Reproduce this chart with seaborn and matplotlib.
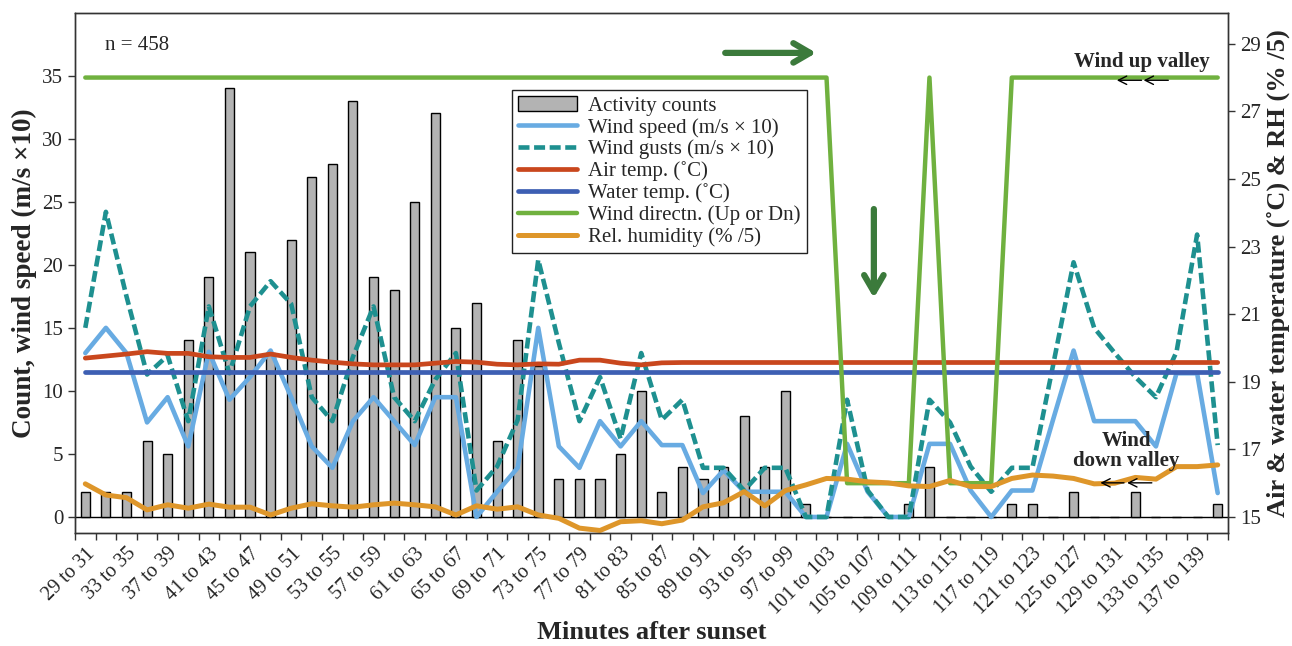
import numpy as np
import pandas as pd
import matplotlib
matplotlib.use("Agg")
import matplotlib.pyplot as plt
import seaborn as sns

# ---------------- data ----------------
starts = list(range(29, 141, 2))
categories = [f"{s} to {s + 2}" for s in starts]

counts = [2, 2, 2, 6, 5, 14, 19, 34, 21, 13, 22, 27, 28, 33, 19,
          18, 25, 32, 15, 17, 6, 14, 12, 3, 3, 3, 5, 10, 2,
          4, 3, 4, 8, 4, 10, 1, 0, 0, 0, 0, 1, 4,
          0, 0, 0, 1, 1, 0, 2, 0, 0, 2, 0, 0, 0, 1]

wind_speed = [13.0, 15.0, 13.0, 7.5, 9.5, 5.6, 13.1, 9.3, 11.1, 13.2, 9.5, 5.6, 3.9, 7.6, 9.5,
              7.6, 5.7, 9.5, 9.5, 0.0, 2.0, 3.9, 15.0, 5.6, 3.9, 7.6, 5.6, 7.6, 5.7,
              5.7, 1.9, 3.7, 2.0, 2.0, 2.0, 0.0, 0.0, 5.8, 2.0, 0.0, 0.0, 5.8,
              5.8, 2.1, 0.0, 2.1, 2.1, 7.7, 13.2, 7.6, 7.6, 7.6, 5.6, 11.4, 11.4, 1.9]

wind_gusts = [15.0, 24.2, 17.5, 11.3, 12.8, 7.6, 16.7, 11.4, 16.7, 18.7, 16.9, 9.5, 7.6, 12.7, 16.7,
              9.5, 7.6, 10.9, 13.0, 2.1, 4.0, 7.7, 20.4, 13.8, 7.6, 11.1, 6.2, 13.0, 7.7,
              9.3, 3.9, 3.9, 2.1, 3.9, 3.9, 0.0, 0.0, 9.3, 2.1, 0.0, 0.0, 9.3,
              7.5, 4.0, 2.0, 3.9, 3.9, 12.0, 20.2, 15.0, 13.0, 11.1, 9.5, 13.1, 22.4, 5.7]

air_temp = [19.70, 19.76, 19.82, 19.89, 19.84, 19.84, 19.74, 19.72, 19.72, 19.82, 19.72, 19.64, 19.58, 19.53, 19.50,
            19.50, 19.50, 19.55, 19.60, 19.58, 19.52, 19.50, 19.53, 19.52, 19.64, 19.64, 19.55, 19.50, 19.56,
            19.57, 19.57, 19.57, 19.57, 19.57, 19.57, 19.57, 19.57, 19.57, 19.57, 19.57, 19.57, 19.57,
            19.57, 19.57, 19.57, 19.57, 19.57, 19.57, 19.57, 19.57, 19.57, 19.57, 19.57, 19.57, 19.57, 19.57]

water_temp = [19.3] * 56

wind_dir = [28] * 37 + [16] * 4 + [28] + [16] * 3 + [28] * 11

rh_div5 = [15.98, 15.65, 15.57, 15.21, 15.36, 15.26, 15.38, 15.29, 15.29, 15.06, 15.26, 15.39, 15.33, 15.29, 15.36,
           15.41, 15.36, 15.30, 15.06, 15.33, 15.23, 15.30, 15.06, 14.96, 14.67, 14.60, 14.86, 14.89, 14.80,
           14.91, 15.30, 15.42, 15.75, 15.33, 15.78, 15.95, 16.14, 16.12, 16.04, 16.01, 15.92, 15.90,
           16.08, 15.90, 15.90, 16.14, 16.24, 16.21, 16.14, 15.98, 16.00, 16.17, 16.12, 16.49, 16.49, 16.54]

df = pd.DataFrame({
    "cat": categories, "idx": np.arange(len(categories)),
    "count": counts, "speed": wind_speed, "gust": wind_gusts,
    "air": air_temp, "water": water_temp, "dir": wind_dir, "rh": rh_div5,
})

# ---------------- style ----------------
sns.set_style("ticks")
plt.rcParams["font.family"] = ["Liberation Serif", "DejaVu Serif"]

C_BAR = "#b3b3b3"
C_SPEED = "#68abe2"
C_GUST = "#1e9090"
C_AIR = "#c9471d"
C_WATER = "#3d5fb3"
C_DIR = "#70b13f"
C_RH = "#de962a"
C_ARROW = "#3b7a3b"

fig = plt.figure(figsize=(12.92, 6.46), dpi=100)
ax = fig.add_axes([75 / 1292, 1 - 533 / 646, (1228 - 75) / 1292, 520 / 646])

sns.barplot(data=df, x="cat", y="count", order=categories, ax=ax, color=C_BAR,
            edgecolor="black", linewidth=1.0, width=0.44, saturation=1,
            label="Activity counts", zorder=2)
sns.lineplot(data=df, x="idx", y="speed", ax=ax, color=C_SPEED, lw=3.3,
             label="Wind speed (m/s × 10)", zorder=3)
sns.lineplot(data=df, x="idx", y="gust", ax=ax, color=C_GUST, lw=3.3,
             linestyle=(0, (2.4, 1.0)), label="Wind gusts (m/s × 10)", zorder=3)
ax.axhline(0, color="black", lw=1.0, zorder=1)

ax2 = ax.twinx()
sns.lineplot(data=df, x="idx", y="air", ax=ax2, color=C_AIR, lw=3.4, label="Air temp. (˚C)")
sns.lineplot(data=df, x="idx", y="water", ax=ax2, color=C_WATER, lw=3.4, label="Water temp. (˚C)")
sns.lineplot(data=df, x="idx", y="dir", ax=ax2, color=C_DIR, lw=3.2, label="Wind directn. (Up or Dn)")
sns.lineplot(data=df, x="idx", y="rh", ax=ax2, color=C_RH, lw=3.6, label="Rel. humidity (% /5)")

for a in (ax, ax2):
    if a.get_legend() is not None:
        a.get_legend().remove()

n = len(categories)
ax.set_xlim(-0.5, n - 0.5)
ax.set_ylim(-1.27, 39.97)
ax2.set_ylim(14.526, 29.91)
ax.set_yticks(np.arange(0, 36, 5))
ax2.set_yticks(np.arange(15, 30, 2))

ax.set_xticks(np.arange(-0.5, n, 1))
ax.set_xticklabels([])
ax.set_xticks(np.arange(0, n, 2), minor=True)
ax.set_xticklabels(categories[::2], minor=True, rotation=45, ha="right",
                   rotation_mode="anchor", fontsize=14.5)
ax.tick_params(axis="x", which="major", direction="out", length=5, width=1, color="#333333")
ax.tick_params(axis="x", which="minor", length=0, pad=8)
ax.tick_params(axis="y", direction="out", length=5, width=1, labelsize=15, color="#333333")
ax2.tick_params(axis="y", direction="out", length=5, width=1, labelsize=15, color="#333333")

for a in (ax, ax2):
    for sp in a.spines.values():
        sp.set_visible(True)
        sp.set_color("#333333")
        sp.set_linewidth(1.0)

ax.set_xlabel("Minutes after sunset", fontsize=19, fontweight="bold", labelpad=2)
ax.set_ylabel("Count, wind speed (m/s ×10)", fontsize=19.5, fontweight="bold", labelpad=4)
ax2.set_ylabel("Air & water temperature (˚C) & RH (% /5)", fontsize=19, fontweight="bold", labelpad=4)

# legend in the reference order
h1, l1 = ax.get_legend_handles_labels()
h2, l2 = ax2.get_legend_handles_labels()
hmap = dict(zip(l1 + l2, h1 + h2))
order = ["Activity counts", "Wind speed (m/s × 10)", "Wind gusts (m/s × 10)", "Air temp. (˚C)",
         "Water temp. (˚C)", "Wind directn. (Up or Dn)", "Rel. humidity (% /5)"]
leg = ax2.legend([hmap[k] for k in order], order, loc="upper left",
                 bbox_to_anchor=(512 / 1292, 1 - 90 / 646), bbox_transform=fig.transFigure,
                 borderaxespad=0, fontsize=15, frameon=True, fancybox=False,
                 framealpha=1, edgecolor="#222222", handlelength=2.8,
                 labelspacing=0.1, borderpad=0.3, handletextpad=0.57)
leg.get_frame().set_linewidth(1.0)

# annotations (x in category units, y in right-axis units)
ax2.text(0.95, 28.95, "n = 458", fontsize=15, ha="left", va="center")
ax2.text(51.3, 28.47, "Wind up valley", fontsize=15, fontweight="bold", ha="center", va="center")
ax2.text(50.55, 16.95, "Wind\ndown valley", fontsize=15, fontweight="bold", ha="center",
         va="center", linespacing=1.0)

big = dict(arrowstyle="->,head_length=0.6,head_width=0.35", lw=4.5, color=C_ARROW,
           mutation_scale=20, shrinkA=0, shrinkB=0)
ax2.annotate("", xy=(35.5, 28.73), xytext=(31.08, 28.73), arrowprops=big)
ax2.annotate("", xy=(38.3, 21.48), xytext=(38.3, 24.11), arrowprops=big)

small = dict(arrowstyle="->,head_length=0.5,head_width=0.25", lw=1.0, color="black",
             mutation_scale=12, shrinkA=0, shrinkB=0)
for x0, x1, yy in [(51.3, 50.1, 27.92), (52.6, 51.4, 27.92), (50.45, 49.3, 16.01), (51.8, 50.6, 16.01)]:
    ax2.annotate("", xy=(x1, yy), xytext=(x0, yy), arrowprops=small)

fig.savefig("out.png", dpi=100)
